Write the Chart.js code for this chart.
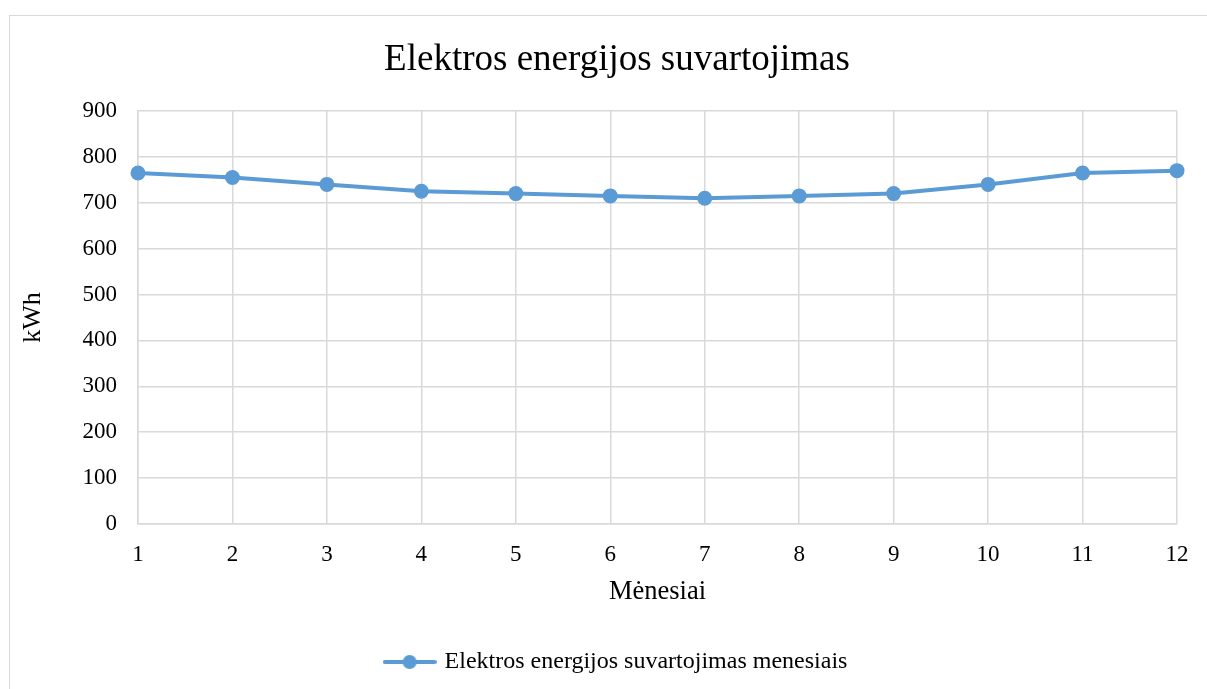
<!DOCTYPE html>
<html lang="lt">
  <head>
    <meta charset="UTF-8" />
    <title>Elektros energijos suvartojimas</title>
    <script src="https://cdn.jsdelivr.net/npm/chart.js"></script>
    <style>
      html, body { margin: 0; padding: 0; background: #fff; overflow: hidden; }
      #wrap { position: relative; width: 1207px; height: 689px; }
      #frame {
        position: absolute; left: 9px; top: 15px; width: 1260px; height: 760px;
        border: 1px solid #d9d9d9;
      }
      #chart { position: absolute; left: 0; top: 0; }
    </style>
  </head>
  <body>
    <div id="wrap">
      <div id="frame"></div>
      <canvas id="chart" width="1207" height="689"></canvas>
    </div>

    <script>
      // data
      const months = ["1", "2", "3", "4", "5", "6", "7", "8", "9", "10", "11", "12"];
      const consumption = [765, 755, 740, 725, 720, 715, 710, 715, 720, 740, 765, 770];
      const yMin = 0;
      const yMax = 900;
      const yStep = 100;

      const blue = "#5b9bd5";
      const grid = "#d9d9d9";
      const serif = "'Liberation Serif', 'Times New Roman', serif";

      // legend marker: short line with a dot, like Excel
      const marker = document.createElement("canvas");
      marker.width = 54;
      marker.height = 16;
      const m = marker.getContext("2d");
      m.strokeStyle = blue;
      m.lineWidth = 4;
      m.lineCap = "round";
      m.beginPath();
      m.moveTo(2, 8);
      m.lineTo(52, 8);
      m.stroke();
      m.fillStyle = blue;
      m.beginPath();
      m.arc(27, 8, 7, 0, Math.PI * 2);
      m.fill();

      const ctx = document.getElementById("chart").getContext("2d");
      new Chart(ctx, {
        type: "line",
        data: {
          labels: months,
          datasets: [
            {
              label: "Elektros energijos suvartojimas menesiais",
              data: consumption,
              borderColor: blue,
              backgroundColor: blue,
              borderWidth: 4,
              pointRadius: 7.5,
              pointBorderWidth: 0,
              pointBackgroundColor: blue,
              tension: 0,
              clip: false,
            },
          ],
        },
        options: {
          responsive: false,
          animation: false,
          layout: { padding: { top: 0, left: 57, right: 30, bottom: 5 } },
          plugins: {
            title: {
              display: true,
              text: "Elektros energijos suvartojimas",
              color: "#000",
              font: { family: serif, size: 37, weight: "normal" },
              padding: { top: 38.5, bottom: 28.1 },
            },
            legend: {
              position: "bottom",
              labels: {
                usePointStyle: true,
                pointStyle: marker,
                pointStyleWidth: 46,
                color: "#000",
                font: { family: serif, size: 24 },
                padding: 10,
              },
            },
            tooltip: { enabled: false },
          },
          scales: {
            x: {
              grid: { color: grid, lineWidth: 1.5, drawTicks: false },
              border: { color: grid, width: 1.5 },
              ticks: { color: "#000", font: { family: serif, size: 23 }, padding: 17, maxRotation: 0 },
              title: {
                display: true,
                text: "Mėnesiai",
                color: "#000",
                font: { family: serif, size: 26.5 },
                padding: { top: 0, bottom: 32 },
              },
              afterFit: (scale) => { scale.height = 116; },
            },
            y: {
              min: yMin,
              max: yMax,
              grid: { color: grid, lineWidth: 1.5, drawTicks: false },
              border: { color: grid, width: 1.5 },
              ticks: { stepSize: yStep, color: "#000", font: { family: serif, size: 23 }, padding: 21 },
              title: {
                display: true,
                text: "kWh",
                color: "#000",
                font: { family: serif, size: 26 },
                padding: { top: -39.6, bottom: 0 },
              },
              afterFit: (scale) => { scale.width = 81; },
            },
          },
        },
      });
    </script>
  </body>
</html>
